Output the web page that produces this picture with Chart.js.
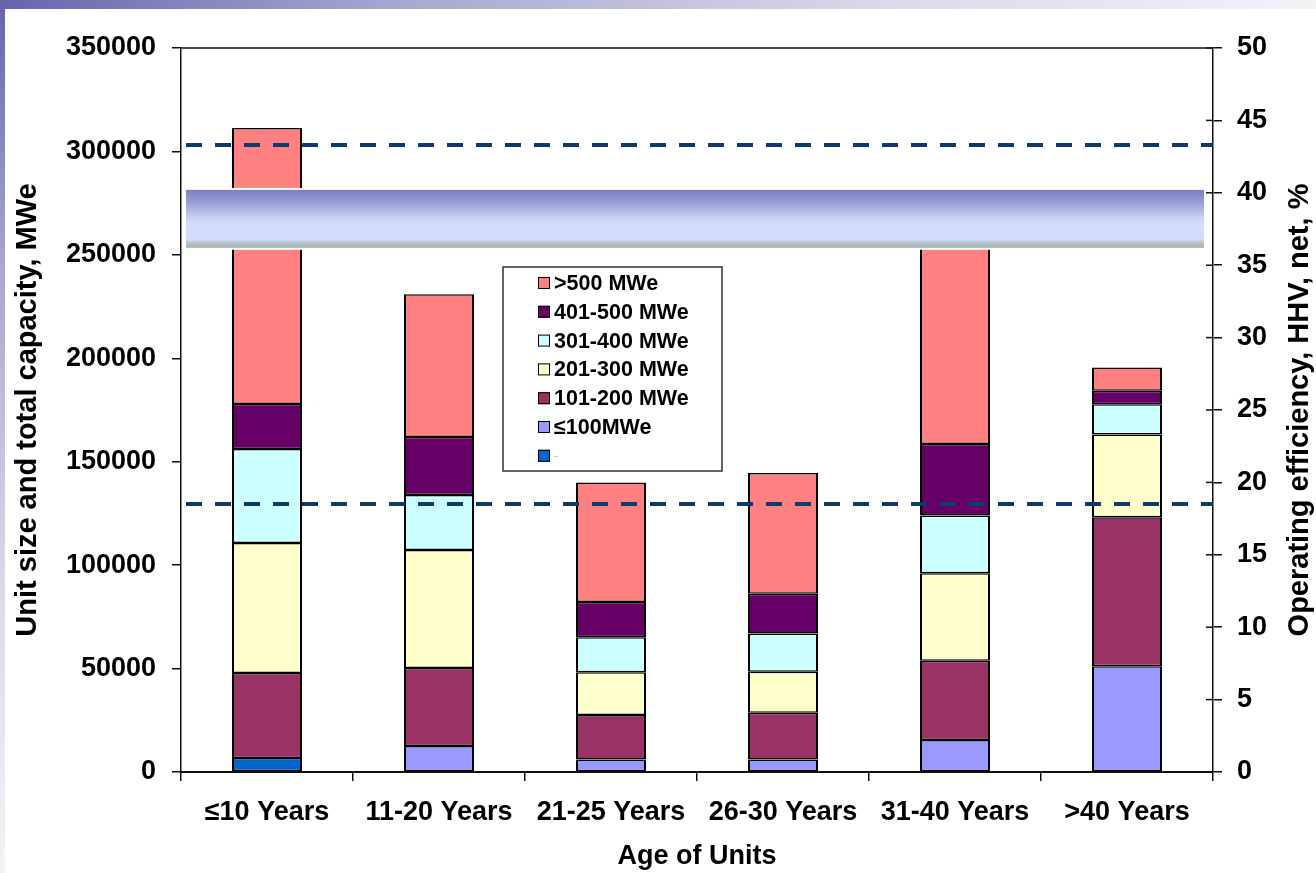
<!DOCTYPE html>
<html>
<head>
<meta charset="utf-8">
<script src="https://cdn.jsdelivr.net/npm/chart.js@4.4.1/dist/chart.umd.min.js"></script>
<style>
  html, body { margin: 0; padding: 0; width: 1316px; height: 873px; overflow: hidden; }
  body { background: linear-gradient(to bottom right, #6663ad 0%, #a6a6d0 15%, #dadaea 34%, #f2f2f7 50%, #fafafc 100%); }
  #sheet { position: absolute; left: 5px; top: 9px; width: 1311px; height: 864px; background: #fff; }
</style>
</head>
<body>
<div id="sheet"><canvas id="chart"></canvas></div>
<script>
// Age groups of the coal units (x categories)
const ageGroups = ['≤10 Years', '11-20 Years', '21-25 Years', '26-30 Years', '31-40 Years', '>40 Years'];

// Installed capacity by unit size, MWe (stacked bottom to top)
const unsizedUnits = [6800, null, null, null, null, null];
const upTo100      = [null, 12600, 6100, 6100, 15500, 51100];
const mw101to200   = [41100, 37700, 21500, 22600, 38300, 72100];
const mw201to300   = [62800, 57000, 20600, 19800, 42300, 39900];
const mw301to400   = [45400, 26600, 16900, 18500, 27900, 14700];
const mw401to500   = [21800, 28000, 17100, 19200, 34600, 6500];
const over500      = [133400, 69100, 57800, 58300, 111400, 11300];

const sizeLabels = ['-', '≤100MWe', '101-200 MWe', '201-300 MWe', '301-400 MWe', '401-500 MWe', '>500 MWe'];
const sizeSeries = [unsizedUnits, upTo100, mw101to200, mw201to300, mw301to400, mw401to500, over500];
const sizeColors = ['#0066cc', '#9999ff', '#993366', '#ffffcc', '#ccffff', '#660066', '#ff8080'];

// Axis ranges
const capacityAxis = { min: 0, max: 350000, step: 50000 };
const efficiencyAxis = { min: 0, max: 50, step: 5 };

// Efficiency reference levels (%, net HHV) and the highlighted efficiency range
const efficiencyLevels = [43.3, 18.5];
const efficiencyBand = [36.2, 40.2];

const FONT = '"Liberation Sans", Arial, sans-serif';

const overlays = {
  id: 'overlays',
  afterDatasetsDraw(chart) {
    const { ctx, chartArea: a, scales } = chart;
    const eff = scales.y1;

    // dashed efficiency levels
    ctx.save();
    ctx.strokeStyle = '#0f3a6c';
    ctx.lineWidth = 4;
    ctx.setLineDash([16, 13]);
    efficiencyLevels.forEach(v => {
      const y = Math.round(eff.getPixelForValue(v));
      ctx.beginPath();
      ctx.moveTo(a.left + 5, y);
      ctx.lineTo(a.right, y);
      ctx.stroke();
    });
    ctx.restore();

    // efficiency band
    const yTop = eff.getPixelForValue(efficiencyBand[1]);
    const yBot = eff.getPixelForValue(efficiencyBand[0]);
    const x0 = a.left + 5, x1 = a.right - 9;
    ctx.save();
    ctx.fillStyle = '#ffffff';
    ctx.fillRect(x0 - 2, yTop - 2, x1 - x0 + 4, yBot - yTop + 4);
    const g = ctx.createLinearGradient(0, yTop, 0, yBot);
    g.addColorStop(0, '#7b7fc0');
    g.addColorStop(0.25, '#9ea4d8');
    g.addColorStop(0.5, '#ccd4f8');
    g.addColorStop(0.6, '#d4ddfc');
    g.addColorStop(0.86, '#d2dbf8');
    g.addColorStop(0.92, '#b4c0cc');
    g.addColorStop(1, '#a4b4a8');
    ctx.fillStyle = g;
    ctx.fillRect(x0, yTop, x1 - x0, yBot - yTop);
    ctx.restore();

    // legend box
    const lx = a.left + 322, ly = a.top + 219, lw = 219, lh = 204;
    ctx.save();
    ctx.fillStyle = '#ffffff';
    ctx.fillRect(lx, ly, lw, lh);
    ctx.strokeStyle = '#333';
    ctx.lineWidth = 1.5;
    ctx.strokeRect(lx, ly, lw, lh);
    const items = chart.data.datasets.slice().reverse();
    items.forEach((ds, i) => {
      const cy = ly + 16 + i * 28.8;
      ctx.fillStyle = ds.backgroundColor;
      ctx.fillRect(lx + 35, cy - 6, 12, 12);
      ctx.strokeStyle = '#000';
      ctx.lineWidth = 1;
      ctx.strokeRect(lx + 35.5, cy - 5.5, 11, 11);
      ctx.textBaseline = 'middle';
      ctx.textAlign = 'left';
      if (ds.label.length > 1) {
        ctx.fillStyle = '#000';
        ctx.font = 'bold 21.5px ' + FONT;
      } else {
        ctx.fillStyle = '#b8b8b8';
        ctx.font = '12px ' + FONT;
      }
      ctx.fillText(ds.label, lx + 51, cy + 1);
    });
    ctx.restore();
  },
  afterDraw(chart) {
    const { ctx, chartArea: a, scales } = chart;
    const eff = scales.y1;
    ctx.save();
    ctx.strokeStyle = '#111';
    ctx.lineWidth = 1.5;
    // top frame line
    ctx.beginPath();
    ctx.moveTo(a.left, a.top);
    ctx.lineTo(a.right, a.top);
    ctx.stroke();
    // inner half of the right-axis tick marks
    eff.ticks.forEach(t => {
      const y = eff.getPixelForValue(t.value);
      ctx.beginPath();
      ctx.moveTo(a.right - 7, y);
      ctx.lineTo(a.right, y);
      ctx.stroke();
    });
    // right axis title, reading upwards
    ctx.translate(1295, (a.top + a.bottom) / 2);
    ctx.rotate(-Math.PI / 2);
    ctx.fillStyle = '#000';
    ctx.font = 'bold 29px ' + FONT;
    ctx.textAlign = 'center';
    ctx.textBaseline = 'middle';
    ctx.fillText('Operating efficiency, HHV, net, %', 0, 0);
    ctx.restore();
  }
};

const datasets = sizeSeries.map((data, i) => ({
  label: sizeLabels[i],
  data: data,
  backgroundColor: sizeColors[i],
  borderColor: '#000',
  borderWidth: { left: 2, right: 2, top: 1.5, bottom: 1.5 },
  borderSkipped: false,
  barPercentage: 0.407,
  categoryPercentage: 1,
  yAxisID: 'y'
}));

const tickFont = { family: FONT, size: 27, weight: 'bold' };

new Chart(document.getElementById('chart'), {
  type: 'bar',
  data: { labels: ageGroups, datasets },
  options: {
    responsive: true,
    maintainAspectRatio: false,
    animation: false,
    devicePixelRatio: 1,
    layout: { padding: { top: 39, left: 0, right: 0, bottom: 0 } },
    plugins: { legend: { display: false }, tooltip: { enabled: false } },
    scales: {
      x: {
        stacked: true,
        grid: { display: true, drawOnChartArea: false, drawTicks: true, tickLength: 9, color: '#111', lineWidth: 1.5, offset: true },
        border: { display: true, color: '#111', width: 2 },
        ticks: { color: '#000', font: tickFont, padding: 15, maxRotation: 0, autoSkip: false },
        title: { display: true, text: 'Age of Units', color: '#000', font: { family: FONT, size: 27, weight: 'bold' }, padding: { top: 0, bottom: 0 } },
        afterFit(s) { s.height = 101; }
      },
      y: {
        stacked: true,
        min: capacityAxis.min,
        max: capacityAxis.max,
        ticks: { stepSize: capacityAxis.step, color: '#000', font: tickFont, padding: 16, callback: v => String(v) },
        grid: { drawOnChartArea: false, drawTicks: true, tickLength: 9, color: '#111', lineWidth: 1.5 },
        border: { display: true, color: '#111', width: 1.5 },
        title: { display: true, text: 'Unit size and total capacity, MWe', color: '#000', font: { family: FONT, size: 29, weight: 'bold' }, padding: { top: 6, bottom: 0 } },
        afterFit(s) { s.width = 176; }
      },
      y1: {
        position: 'right',
        min: efficiencyAxis.min,
        max: efficiencyAxis.max,
        ticks: { stepSize: efficiencyAxis.step, color: '#000', font: tickFont, padding: 15, callback: v => String(v) },
        grid: { drawOnChartArea: false, drawTicks: true, tickLength: 9, color: '#111', lineWidth: 1.5 },
        border: { display: true, color: '#111', width: 1.5 },
        afterFit(s) { s.width = 103; }
      }
    }
  },
  plugins: [overlays]
});
</script>
</body>
</html>
